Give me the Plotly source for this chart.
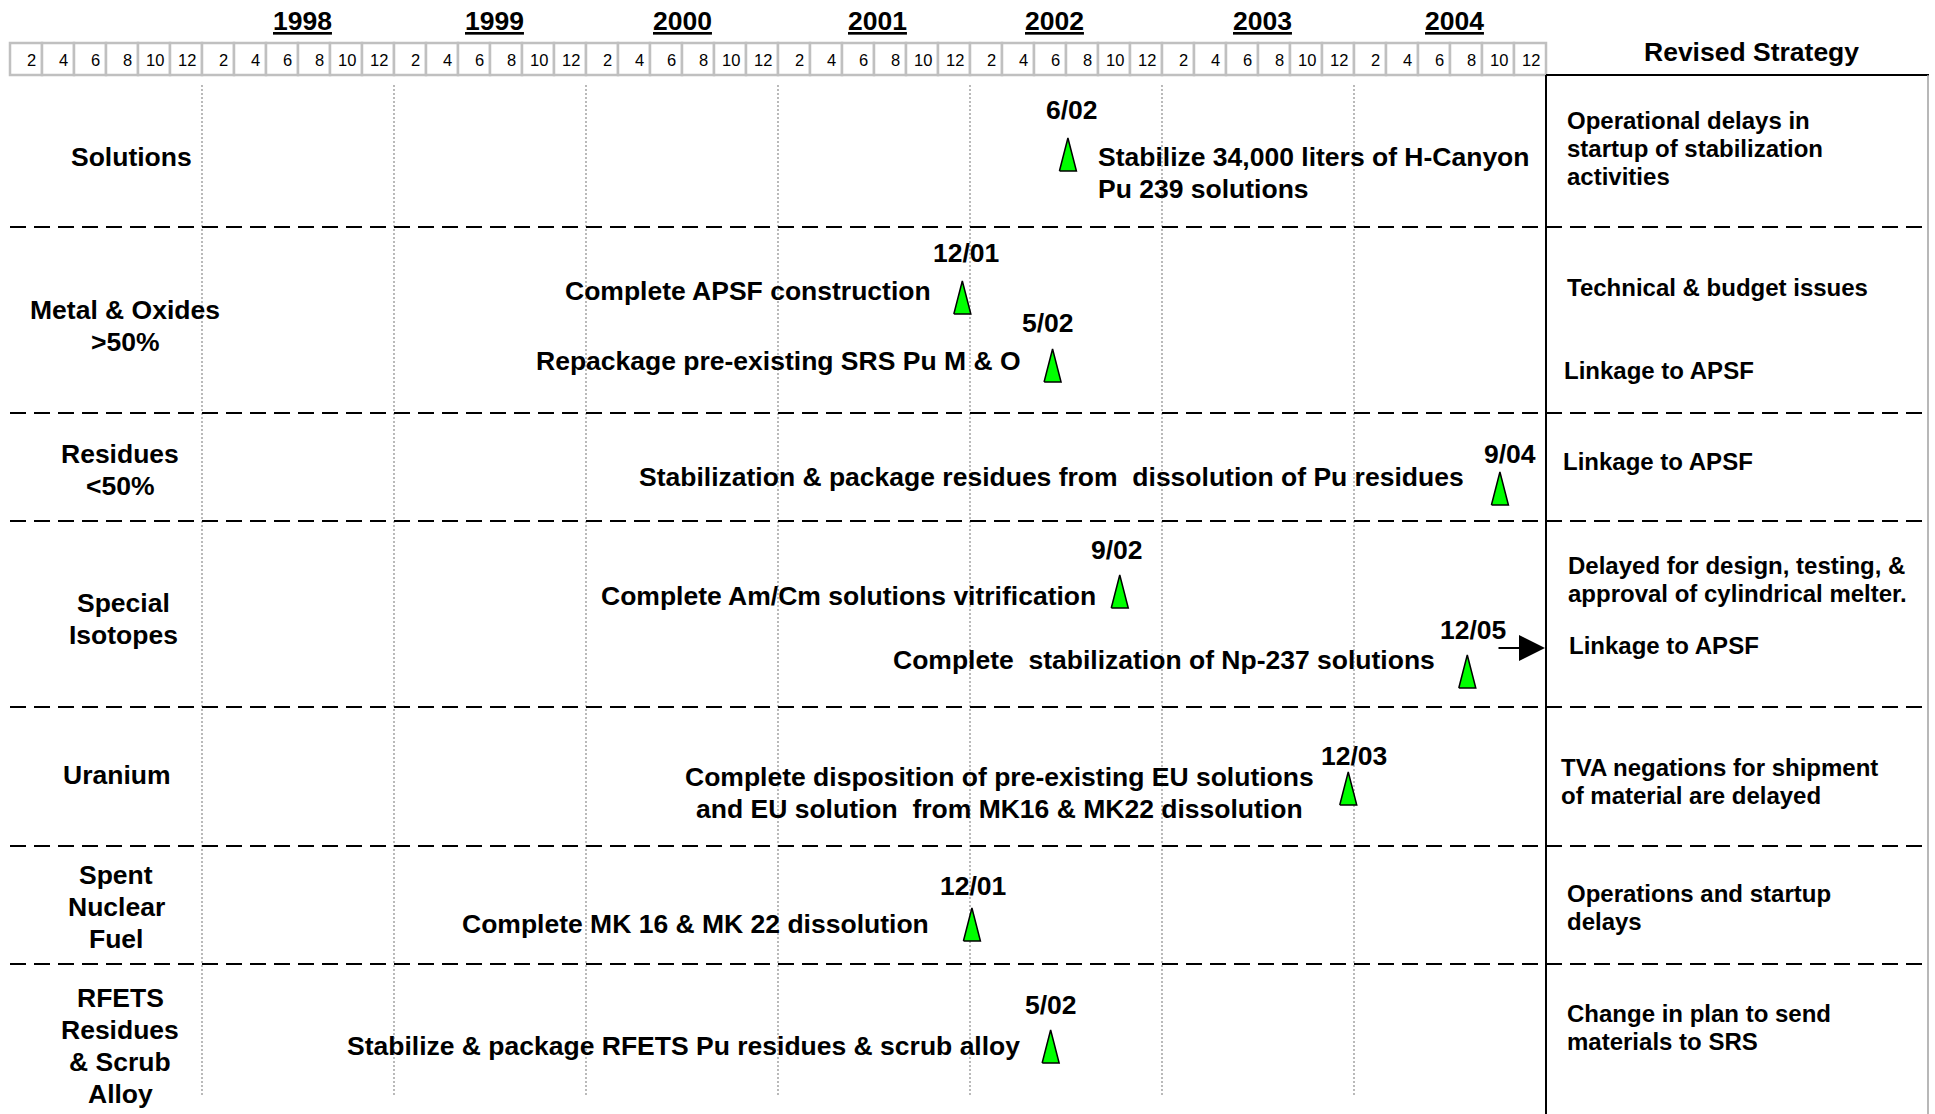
import plotly.graph_objects as go

# ---------------- data ----------------
header_years = [1997, 1998, 1999, 2000, 2001, 2002, 2003, 2004]
year_labels = ["", "1998", "1999", "2000", "2001", "2002", "2003", "2004"]
month_labels = ["2", "4", "6", "8", "10", "12"]

category_lines = [
    ["Solutions"],
    ["Metal & Oxides", "&gt;50%"],
    ["Residues", "&lt;50%"],
    ["Special", "Isotopes"],
    ["Uranium"],
    ["Spent", "Nuclear", "Fuel"],
    ["RFETS", "Residues", "& Scrub", "Alloy"],
]

milestone_row = [0, 1, 1, 2, 3, 3, 4, 5, 6]
milestone_date = ["6/02", "12/01", "5/02", "9/04", "9/02", "12/05", "12/03", "12/01", "5/02"]
milestone_x = [2002.51, 2001.96, 2002.43, 2004.76, 2002.78, 2004.59, 2003.97, 2002.01, 2002.42]
milestone_text = [
    ["Stabilize 34,000 liters of H-Canyon", "Pu 239 solutions"],
    ["Complete APSF construction"],
    ["Repackage pre-existing SRS Pu M & O"],
    ["Stabilization & package residues from \u00a0dissolution of Pu residues"],
    ["Complete Am/Cm solutions vitrification"],
    ["Complete \u00a0stabilization of Np-237 solutions"],
    ["Complete disposition of pre-existing EU solutions", "and EU solution \u00a0from MK16 & MK22 dissolution"],
    ["Complete MK 16 & MK 22 dissolution"],
    ["Stabilize & package RFETS Pu residues & scrub alloy"],
]

strategy_header = "Revised Strategy"
strategy_text = [
    ["Operational delays in", "startup of stabilization", "activities"],
    ["Technical & budget issues"],
    ["Linkage to APSF"],
    ["Linkage to APSF"],
    ["Delayed for design, testing, &", "approval of cylindrical melter."],
    ["Linkage to APSF"],
    ["TVA negations for shipment", "of material are delayed"],
    ["Operations and startup", "delays"],
    ["Change in plan to send", "materials to SRS"],
]

# ---------------- layout (pixel geometry) ----------------
W, H = 1935, 1114
X0_PX, PX_PER_YEAR = 10, 192.0
X_START = header_years[0]


def xpx(p):
    return X_START + (p - X0_PX) / PX_PER_YEAR


FONT = "Liberation Sans, Arial, Helvetica, sans-serif"
BIG = 26.5
MID = 24
LINE_BIG = 32
LINE_MID = 28.4

year_label_dx = [0, 4, 4, 0, 3, -12, 4, 4]

row_sep_y = [227, 413, 521, 707, 846, 964]
row_label_cx = [131, 125, 120, 123, 117, 116, 120]
row_label_cy = [157, 326, 470, 619, 775, 907, 1046]

tri_apex_y = [138, 281, 349, 472, 575, 655, 772, 908, 1030]
TRI_H, TRI_HW = 33, 8.5
date_dx = [3.7, 3.7, -4.7, 9.9, -2.5, 6, 6, 1, 0]
date_y = [110, 253, 323, 454, 550, 630, 756, 886, 1005]
desc_anchor = ["left", "right", "right", "right", "right", "right", "center", "right", "right"]
desc_dx = [28.5, -29, -30, -34, -22, -30, -349, -41, -29]
desc_y = [157, 291, 361, 477, 596, 660, 777, 924, 1046]

strat_x = [1565, 1565, 1562, 1561, 1566, 1567, 1559, 1565, 1565]
strat_y = [120, 287, 370, 461, 565, 645, 767, 893, 1013]

fig = go.Figure()
shapes = []
annotations = []

# month header cells
CELL_TOP, CELL_BOT = 43, 75
for yr in header_years:
    for k, lab in enumerate(month_labels):
        x0 = yr + k * 2 / 12
        x1 = yr + (k + 1) * 2 / 12
        shapes.append(dict(type="rect", xref="x", yref="y", x0=x0, x1=x1, y0=CELL_TOP, y1=CELL_BOT,
                           line=dict(color="#c0c0c0", width=2.5), fillcolor="white", layer="below"))
        annotations.append(dict(x=x1, y=(CELL_TOP + CELL_BOT) / 2 + 1, xref="x", yref="y", text=lab,
                                showarrow=False, xanchor="right", yanchor="middle", xshift=-4,
                                font=dict(family=FONT, size=16.5, color="black")))

# year labels
for yr, lab, dx in zip(header_years, year_labels, year_label_dx):
    if lab:
        annotations.append(dict(x=yr + 0.5, y=21, xref="x", yref="y", text="<u>" + lab + "</u>",
                                showarrow=False, xanchor="center", yanchor="middle", xshift=dx,
                                font=dict(family=FONT, size=BIG, color="black", weight="bold")))

# vertical dotted year gridlines
for yr in header_years[1:]:
    shapes.append(dict(type="line", xref="x", yref="y", x0=yr, x1=yr, y0=85, y1=1095,
                       line=dict(color="#8c8c8c", width=1.2, dash="2px,2px"), layer="below"))

# row separators
for yy in row_sep_y:
    shapes.append(dict(type="line", xref="x", yref="y", x0=xpx(10), x1=xpx(1929), y0=yy, y1=yy,
                       line=dict(color="black", width=2, dash="16px,8px")))

# right panel
shapes.append(dict(type="line", xref="x", yref="y", x0=xpx(1546), x1=xpx(1546), y0=75, y1=H,
                   line=dict(color="black", width=2)))
shapes.append(dict(type="line", xref="x", yref="y", x0=xpx(1546), x1=xpx(1929), y0=75, y1=75,
                   line=dict(color="black", width=2)))
shapes.append(dict(type="line", xref="x", yref="y", x0=xpx(1928), x1=xpx(1928), y0=75, y1=H,
                   line=dict(color="#a0a0a0", width=1.5)))
annotations.append(dict(x=xpx(1751), y=52, xref="x", yref="y", text=strategy_header, showarrow=False,
                        xanchor="center", yanchor="middle",
                        font=dict(family=FONT, size=BIG, color="black", weight="bold")))

# row labels
for lines, cx, cy in zip(category_lines, row_label_cx, row_label_cy):
    n = len(lines)
    for i, ln in enumerate(lines):
        annotations.append(dict(x=xpx(cx), y=cy + (i - (n - 1) / 2) * LINE_BIG, xref="x", yref="y",
                                text=ln, showarrow=False, xanchor="center", yanchor="middle",
                                font=dict(family=FONT, size=BIG, color="black", weight="bold")))

# milestones: triangles
tx, ty = [], []
hw = TRI_HW / PX_PER_YEAR
for xv, ay in zip(milestone_x, tri_apex_y):
    tx += [xv - hw, xv, xv + hw, xv - hw, None]
    ty += [ay + TRI_H, ay, ay + TRI_H, ay + TRI_H, None]
fig.add_trace(go.Scatter(x=tx, y=ty, mode="lines", fill="toself", fillcolor="#00ff00",
                         line=dict(color="black", width=1.5), hoverinfo="skip", showlegend=False))

# milestone date labels and descriptions
for i, xv in enumerate(milestone_x):
    annotations.append(dict(x=xv, y=date_y[i], xref="x", yref="y", text=milestone_date[i],
                            showarrow=False, xanchor="center", yanchor="middle", xshift=date_dx[i],
                            font=dict(family=FONT, size=BIG, color="black", weight="bold")))
    for j, ln in enumerate(milestone_text[i]):
        annotations.append(dict(x=xv, y=desc_y[i] + j * LINE_BIG, xref="x", yref="y", text=ln,
                                showarrow=False, xanchor=desc_anchor[i], yanchor="middle",
                                xshift=desc_dx[i],
                                font=dict(family=FONT, size=BIG, color="black", weight="bold")))

# strategy texts
for lines, sx, sy in zip(strategy_text, strat_x, strat_y):
    for j, ln in enumerate(lines):
        annotations.append(dict(x=xpx(sx), y=sy + j * LINE_MID, xref="x", yref="y", text=ln,
                                showarrow=False, xanchor="left", yanchor="middle",
                                font=dict(family=FONT, size=MID, color="black", weight="bold")))

# arrow for delayed Np-237 milestone
annotations.append(dict(x=xpx(1545), y=648, ax=xpx(1497), ay=648, xref="x", yref="y",
                        axref="x", ayref="y", text="", showarrow=True, arrowhead=2,
                        arrowsize=2.6, arrowwidth=2, arrowcolor="black"))

fig.update_layout(
    width=W, height=H, margin=dict(l=0, r=0, t=0, b=0),
    paper_bgcolor="white", plot_bgcolor="white",
    xaxis=dict(range=[xpx(0), xpx(W)], domain=[0, 1], visible=False, fixedrange=True),
    yaxis=dict(range=[H, 0], domain=[0, 1], visible=False, fixedrange=True),
    shapes=shapes, annotations=annotations, showlegend=False,
)

fig.write_html("out.html", config={"displayModeBar": False},
               post_script="document.body.style.margin='0';document.body.style.overflow='hidden';")
